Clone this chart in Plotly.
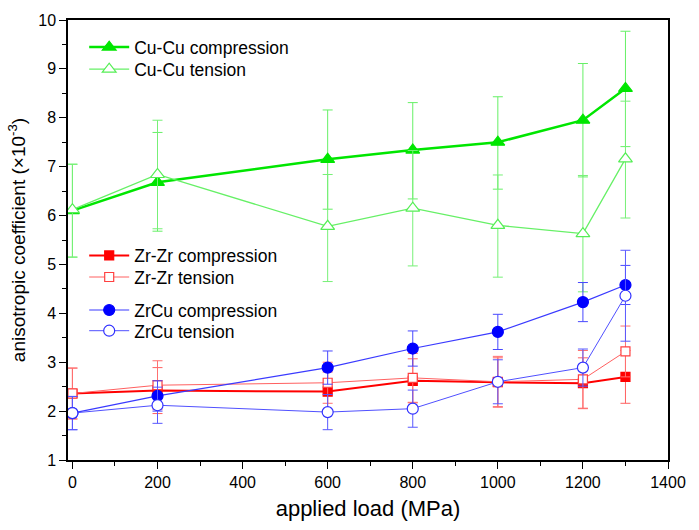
import plotly.graph_objects as go

# ---- data ----
load = [0, 200, 600, 800, 1000, 1200, 1300]

cucu_comp = [6.10, 6.68, 7.15, 7.34, 7.50, 7.95, 8.60]
cucu_comp_errp = [0.95, 1.02, 1.01, 0.97, 0.93, 1.16, 1.17]
cucu_comp_errm = [0.95, 1.00, 1.02, 1.00, 0.96, 1.16, 1.19]

cucu_ten = [6.12, 6.84, 5.78, 6.15, 5.80, 5.63, 7.16]
cucu_ten_errp = [0.93, 1.11, 1.06, 1.18, 1.03, 1.19, 1.18]
cucu_ten_errm = [0.97, 1.11, 1.13, 1.18, 1.06, 1.19, 1.21]

zrzr_comp = [2.36, 2.42, 2.40, 2.62, 2.59, 2.57, 2.70]
zrzr_comp_err = [0.52, 0.47, 0.40, 0.45, 0.50, 0.52, 0.54]

zrzr_ten = [2.36, 2.53, 2.58, 2.68, 2.60, 2.65, 3.22]
zrzr_ten_err = [0.52, 0.50, 0.42, 0.50, 0.52, 0.59, 0.52]

zrcu_comp = [1.96, 2.31, 2.89, 3.28, 3.62, 4.23, 4.58]
zrcu_comp_err = [0.34, 0.31, 0.34, 0.36, 0.36, 0.40, 0.40]

zrcu_ten = [1.96, 2.12, 1.98, 2.05, 2.60, 2.89, 4.36]
zrcu_ten_err = [0.34, 0.37, 0.36, 0.38, 0.45, 0.38, 0.93]

FONT = "Arial, Liberation Sans, Helvetica, sans-serif"

fig = go.Figure()


def add(name, y, errp, errm, color, lcolor, ecolor, lw, symbol, size, fill, legend):
    fig.add_trace(go.Scatter(
        x=load, y=y, name=name, mode="lines+markers", legend=legend,
        showlegend=True,
        line=dict(color=lcolor, width=lw),
        marker=dict(symbol=symbol, size=size, color=fill,
                    line=dict(color=color, width=1.2)),
        error_y=dict(type="data", symmetric=False, array=errp, arrayminus=errm,
                     color=ecolor, thickness=1, width=5),
    ))


add("Cu-Cu compression", cucu_comp, cucu_comp_errp, cucu_comp_errm,
    "#00e600", "#00e600", "#66f066", 2.5, "triangle-up", 12, "#00e600", "legend")
add("Cu-Cu tension", cucu_ten, cucu_ten_errp, cucu_ten_errm,
    "#55ee55", "#66f066", "#77f077", 1.3, "triangle-up", 12, "white", "legend2")
add("Zr-Zr compression", zrzr_comp, zrzr_comp_err, zrzr_comp_err,
    "#ff0000", "#ff0000", "#ff6060", 2, "square", 9, "#ff0000", "legend3")
add("Zr-Zr tension", zrzr_ten, zrzr_ten_err, zrzr_ten_err,
    "#ff4040", "#ff6060", "#ff7070", 1, "square", 9, "white", "legend4")
add("ZrCu compression", zrcu_comp, zrcu_comp_err, zrcu_comp_err,
    "#0000ff", "#3a3aff", "#4848ff", 1.2, "circle", 11, "#0000ff", "legend5")
add("ZrCu tension", zrcu_ten, zrcu_ten_err, zrcu_ten_err,
    "#3030ff", "#5050ff", "#5858ff", 1, "circle", 11, "white", "legend6")

legend_common = dict(font=dict(family=FONT, size=17.5, color="black"),
                     bgcolor="rgba(0,0,0,0)", borderwidth=0,
                     xanchor="left", yanchor="top", itemwidth=40)
LX = 0.027

fig.update_layout(
    width=699, height=530,
    showlegend=True,
    margin=dict(l=68, r=31, t=16, b=70),
    paper_bgcolor="white", plot_bgcolor="white",
    font=dict(family=FONT, size=16, color="black"),
    legend=dict(x=LX, y=0.979, **legend_common),
    legend2=dict(x=LX, y=0.929, **legend_common),
    legend3=dict(x=LX, y=0.5055, **legend_common),
    legend4=dict(x=LX, y=0.4565, **legend_common),
    legend5=dict(x=LX, y=0.3815, **legend_common),
    legend6=dict(x=LX, y=0.3345, **legend_common),
    xaxis=dict(
        range=[-10.4, 1400], tickmode="array",
        tickvals=[0, 200, 400, 600, 800, 1000, 1200, 1400],
        ticks="outside", ticklen=7, tickwidth=1.2, tickcolor="black",
        minor=dict(dtick=100, ticks="outside", ticklen=4, tickwidth=1, tickcolor="black"),
        showline=True, linecolor="black", linewidth=1.5, mirror=True,
        showgrid=False, zeroline=False,
        tickfont=dict(size=16),
        title=dict(text="applied load (MPa)", font=dict(size=22), standoff=11),
    ),
    yaxis=dict(
        range=[1, 10], dtick=1,
        ticks="outside", ticklen=7, tickwidth=1.2, tickcolor="black",
        minor=dict(dtick=0.5, ticks="outside", ticklen=4, tickwidth=1, tickcolor="black"),
        showline=True, linecolor="black", linewidth=1.5, mirror=True,
        showgrid=False, zeroline=False,
        tickfont=dict(size=16),
        title=dict(text="anisotropic coefficient (×10<sup>-3</sup>)", font=dict(size=19), standoff=8),
    ),
)

fig.write_html("out.html", config={"displayModeBar": False},
               post_script="document.body.style.margin='0px';")
